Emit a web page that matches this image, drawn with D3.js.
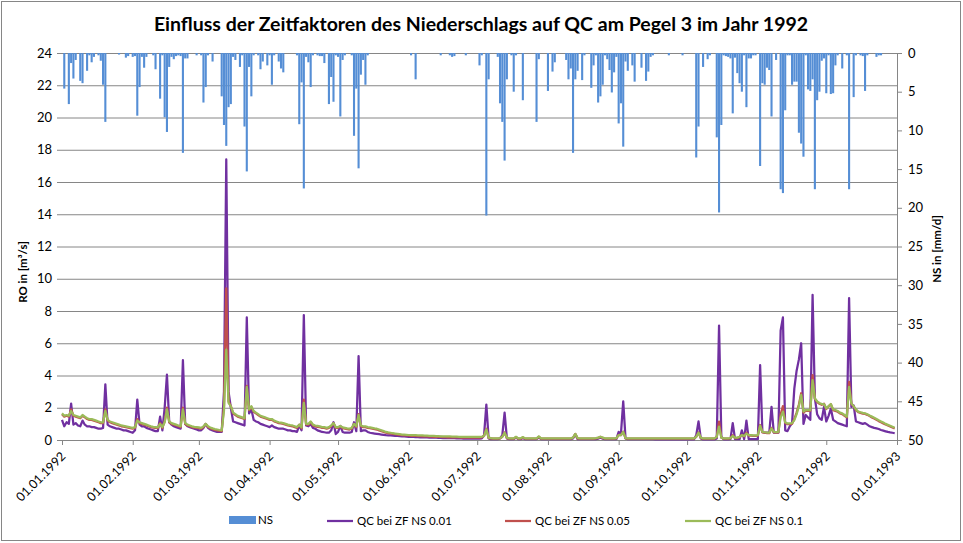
<!DOCTYPE html>
<html>
<head>
<meta charset="utf-8">
<script src="https://cdn.jsdelivr.net/npm/d3@7.9.0/dist/d3.min.js"></script>
<style>
  body { margin: 0; background: #fff; }
  svg { display: block; font-family: Lato, "Open Sans", sans-serif; }
</style>
</head>
<body>
<svg id="chart" width="963" height="543"></svg>
<script>
// Tagesniederschlag NS [mm/d]: [Tag des Jahres (0 = 01.01.1992), Wert]
const nsRain = [
  [1,4.6],[3,6.6],[4,1.3],[5,3.3],[6,0.9],[8,3.6],[9,3.9],[11,2.3],[12,0.3],[13,1.2],
  [14,0.5],[16,0.3],[17,1.0],[18,4.1],[19,8.9],[25,0.2],[28,0.6],[29,0.4],[31,0.5],[32,0.4],
  [33,8.1],[34,4.4],[35,0.5],[36,1.9],[37,0.5],[40,0.3],[41,2.1],[43,5.9],[44,0.3],[45,8.3],
  [46,10.2],[47,1.8],[48,0.5],[49,0.8],[50,0.4],[51,0.3],[52,0.4],[53,12.9],[54,0.7],[55,0.7],
  [59,0.3],[61,0.3],[62,6.4],[63,4.4],[64,0.3],[66,1.1],[70,5.6],[71,9.3],[72,12.0],[73,7.0],
  [74,6.6],[75,0.5],[76,0.9],[78,1.8],[79,0.3],[80,9.5],[81,15.3],[82,1.8],[83,5.6],[84,0.3],
  [86,0.3],[87,2.1],[88,1.1],[90,1.6],[91,0.3],[92,4.1],[93,0.3],[95,1.1],[96,2.0],[97,2.5],
  [103,0.3],[104,9.2],[105,3.8],[106,17.5],[107,0.5],[108,1.2],[109,4.4],[110,0.3],[112,0.3],[113,0.4],
  [114,0.4],[115,1.3],[117,6.6],[118,3.1],[119,6.3],[120,0.3],[121,0.5],[122,8.2],[123,0.9],[124,0.3],
  [127,0.3],[128,10.7],[129,4.6],[130,14.9],[131,2.8],[132,0.9],[133,4.1],[134,0.3],[153,0.3],[155,3.4],
  [166,0.3],[170,0.3],[171,0.5],[172,0.4],[177,0.3],[183,1.6],[184,0.3],[186,21.0],[187,3.4],[191,0.5],
  [192,6.5],[193,8.9],[194,13.9],[195,3.4],[197,0.3],[198,5.0],[199,0.3],[202,6.1],[208,8.9],[209,0.8],
  [213,4.9],[215,2.4],[216,1.2],[221,0.9],[222,3.4],[223,2.0],[224,12.9],[225,3.4],[226,2.3],[228,3.5],
  [229,0.3],[232,4.5],[233,1.6],[234,0.3],[235,6.4],[236,5.6],[237,4.1],[238,0.3],[239,0.8],[240,2.2],
  [241,5.1],[242,2.5],[243,0.5],[244,9.1],[245,6.5],[246,12.1],[247,1.1],[248,2.3],[250,1.6],[251,3.7],
  [254,1.9],[256,3.6],[257,2.4],[258,0.5],[259,0.3],[266,0.3],[272,0.3],[278,13.5],[279,9.5],[281,1.8],
  [283,0.8],[284,0.3],[287,10.9],[288,20.6],[289,9.3],[290,0.3],[291,0.4],[292,0.5],[293,0.7],[294,7.8],
  [295,0.6],[296,2.6],[297,3.9],[298,5.0],[299,0.3],[300,7.0],[301,0.7],[302,0.7],[303,0.3],[304,0.3],
  [306,14.6],[307,3.9],[308,4.1],[309,1.9],[310,2.2],[311,8.2],[313,0.9],[315,17.6],[316,18.1],[317,7.4],
  [318,0.3],[319,0.3],[320,4.1],[321,3.7],[322,3.7],[323,10.3],[324,11.7],[325,13.4],[326,0.3],[327,4.7],
  [328,4.9],[329,3.4],[330,17.6],[331,6.1],[332,5.0],[333,1.0],[334,0.7],[335,5.2],[336,0.3],[337,5.3],
  [338,5.2],[339,1.6],[340,0.3],[342,2.0],[344,0.3],[345,17.6],[347,5.7],[348,0.3],[350,0.3],[351,0.4],
  [352,4.9],[353,0.3],[357,0.5],[358,0.3],[359,0.3]
];

// QC [m³/s], täglich ab 01.01.1992 (366 Werte)
const qc001 = [
  1.25,0.85,1.1,1.0,2.25,0.95,1.05,0.9,0.85,1.2,
  0.95,0.85,0.85,0.8,0.8,0.75,0.7,0.7,0.75,3.45,
  0.95,0.85,0.8,0.75,0.7,0.7,0.65,0.6,0.6,0.55,
  0.5,0.45,0.6,2.5,0.95,0.85,0.85,0.75,0.7,0.65,
  0.6,0.55,0.55,1.45,0.6,2.0,4.05,1.1,0.95,0.85,
  0.8,0.75,0.7,4.95,1.0,0.85,0.8,0.75,0.7,0.65,
  0.6,0.6,0.75,1.0,0.75,0.65,0.6,0.55,0.5,0.5,
  0.5,3.0,17.4,3.0,2.0,1.15,1.1,1.05,1.0,0.95,
  0.9,7.6,1.65,1.9,1.25,1.15,1.1,1.0,0.95,0.9,
  0.85,0.8,0.9,0.8,0.75,0.7,0.7,0.7,0.65,0.6,
  0.6,0.55,0.55,0.5,0.9,0.6,7.75,0.9,0.85,1.0,
  0.75,0.7,0.6,0.55,0.5,0.48,0.45,0.45,0.6,1.1,
  0.37,0.5,0.87,0.5,0.45,0.45,0.45,0.5,1.1,0.55,
  5.2,0.55,0.6,0.6,0.5,0.45,0.42,0.4,0.38,0.36,
  0.34,0.32,0.3,0.29,0.28,0.27,0.26,0.25,0.24,0.23,
  0.22,0.21,0.2,0.2,0.19,0.18,0.18,0.17,0.17,0.16,
  0.16,0.15,0.15,0.14,0.14,0.13,0.13,0.12,0.12,0.12,
  0.11,0.11,0.11,0.1,0.1,0.1,0.09,0.09,0.09,0.09,
  0.08,0.08,0.08,0.08,0.1,0.3,2.2,0.1,0.05,0.05,
  0.05,0.05,0.1,0.3,1.7,0.1,0.05,0.05,0.05,0.15,
  0.05,0.05,0.12,0.05,0.05,0.05,0.05,0.05,0.05,0.15,
  0.05,0.05,0.05,0.05,0.05,0.05,0.05,0.05,0.05,0.05,
  0.05,0.05,0.05,0.05,0.1,0.35,0.05,0.05,0.05,0.05,
  0.05,0.05,0.05,0.05,0.05,0.08,0.15,0.08,0.05,0.05,
  0.05,0.05,0.05,0.05,0.5,0.4,2.4,0.1,0.05,0.05,
  0.05,0.05,0.05,0.05,0.05,0.05,0.05,0.05,0.05,0.05,
  0.04,0.04,0.04,0.04,0.04,0.04,0.04,0.04,0.04,0.04,
  0.04,0.04,0.04,0.04,0.04,0.04,0.04,0.04,0.3,1.15,
  0.1,0.04,0.04,0.04,0.04,0.04,0.04,0.1,7.1,0.2,
  0.04,0.04,0.04,0.05,1.05,0.05,0.05,0.05,0.6,0.05,
  1.2,0.05,0.05,0.05,0.05,0.05,4.65,0.5,0.45,0.45,
  0.45,2.05,0.45,0.45,0.45,6.8,7.6,0.6,0.55,0.85,
  1.05,3.2,4.3,5.0,6.0,1.0,1.55,1.4,1.25,9.0,
  2.6,1.6,1.35,1.25,2.05,1.15,1.5,1.95,1.25,1.15,
  1.05,1.0,0.95,0.9,0.85,8.8,2.05,2.15,1.15,1.1,
  1.05,1.0,1.05,0.95,0.85,0.8,0.75,0.72,0.68,0.62,
  0.58,0.54,0.5,0.47,0.45,0.42
];

const qc005 = [
  1.6,1.45,1.5,1.45,1.9,1.5,1.45,1.4,1.35,1.5,
  1.4,1.3,1.25,1.25,1.2,1.15,1.1,1.05,1.05,1.9,
  1.2,1.1,1.05,1.0,0.95,0.9,0.85,0.83,0.8,0.77,
  0.73,0.7,0.75,1.3,1.05,1.0,0.95,0.9,0.85,0.8,
  0.77,0.75,0.73,1.05,0.75,1.15,2.0,1.1,1.0,0.95,
  0.9,0.85,0.8,2.0,1.0,0.9,0.85,0.8,0.77,0.75,
  0.73,0.7,0.8,1.0,0.8,0.73,0.67,0.63,0.6,0.57,
  0.55,2.1,9.4,2.4,2.1,1.65,1.55,1.45,1.4,1.35,
  1.3,3.35,1.85,2.05,1.75,1.65,1.55,1.45,1.4,1.35,
  1.3,1.25,1.25,1.15,1.1,1.05,1.03,1.0,0.95,0.9,
  0.87,0.85,0.8,0.75,0.95,0.73,2.5,0.95,0.95,1.1,
  0.9,0.85,0.82,0.79,0.75,0.75,0.7,0.75,0.85,1.05,
  0.75,0.75,0.85,0.73,0.7,0.67,0.65,0.7,1.0,0.8,
  1.6,0.85,0.8,0.8,0.75,0.73,0.7,0.67,0.65,0.6,
  0.55,0.5,0.46,0.43,0.41,0.38,0.36,0.34,0.32,0.3,
  0.29,0.28,0.27,0.26,0.26,0.25,0.24,0.24,0.23,0.23,
  0.22,0.21,0.21,0.2,0.2,0.19,0.19,0.18,0.18,0.17,
  0.17,0.17,0.16,0.16,0.16,0.15,0.15,0.15,0.15,0.15,
  0.15,0.15,0.15,0.15,0.16,0.25,0.7,0.12,0.1,0.08,
  0.08,0.08,0.1,0.2,0.47,0.12,0.08,0.08,0.08,0.18,
  0.08,0.08,0.16,0.08,0.08,0.08,0.08,0.08,0.08,0.2,
  0.08,0.08,0.08,0.08,0.08,0.08,0.08,0.08,0.08,0.08,
  0.08,0.08,0.08,0.08,0.14,0.38,0.1,0.08,0.08,0.08,
  0.08,0.08,0.08,0.08,0.1,0.13,0.2,0.13,0.08,0.08,
  0.08,0.08,0.08,0.1,0.32,0.3,0.52,0.1,0.08,0.08,
  0.08,0.08,0.08,0.08,0.08,0.08,0.08,0.08,0.08,0.08,
  0.08,0.08,0.08,0.08,0.08,0.08,0.08,0.08,0.08,0.08,
  0.08,0.08,0.08,0.08,0.08,0.08,0.08,0.08,0.2,0.47,
  0.12,0.08,0.08,0.08,0.08,0.08,0.08,0.2,1.14,0.14,
  0.08,0.08,0.08,0.1,0.3,0.12,0.12,0.18,0.32,0.22,
  0.45,0.27,0.27,0.25,0.25,0.27,0.93,0.47,0.45,0.43,
  0.42,0.75,0.47,0.45,0.47,1.6,2.1,1.05,0.98,0.98,
  1.0,1.3,1.7,2.2,2.9,1.7,1.82,1.8,1.8,4.03,
  2.55,2.35,2.25,2.18,2.25,1.92,2.08,2.22,1.85,1.8,
  1.75,1.65,1.6,1.5,1.4,3.6,2.25,2.08,1.85,1.72,
  1.68,1.64,1.62,1.56,1.48,1.4,1.33,1.25,1.17,1.1,
  1.03,0.96,0.9,0.84,0.78,0.72
];

const qc01 = [
  1.65,1.5,1.55,1.5,1.8,1.55,1.5,1.45,1.4,1.55,
  1.45,1.35,1.3,1.3,1.25,1.2,1.15,1.1,1.1,1.8,
  1.25,1.15,1.1,1.05,1.0,0.95,0.9,0.88,0.85,0.82,
  0.78,0.75,0.8,1.2,1.1,1.05,1.0,0.95,0.9,0.85,
  0.82,0.8,0.78,1.0,0.8,1.1,1.9,1.15,1.05,1.0,
  0.95,0.9,0.85,1.9,1.05,0.95,0.9,0.85,0.82,0.8,
  0.78,0.75,0.85,1.0,0.85,0.78,0.72,0.68,0.65,0.62,
  0.6,1.8,5.6,2.3,2.1,1.7,1.6,1.5,1.45,1.4,
  1.35,3.3,1.9,2.1,1.8,1.7,1.6,1.5,1.45,1.4,
  1.35,1.3,1.3,1.2,1.15,1.1,1.08,1.05,1.0,0.95,
  0.92,0.9,0.85,0.8,0.95,0.78,2.3,1.0,1.0,1.15,
  0.95,0.9,0.87,0.84,0.8,0.8,0.75,0.8,0.9,1.05,
  0.8,0.8,0.87,0.78,0.75,0.72,0.7,0.75,1.0,0.85,
  1.55,0.9,0.85,0.85,0.8,0.78,0.75,0.72,0.7,0.65,
  0.6,0.55,0.5,0.47,0.45,0.42,0.4,0.38,0.36,0.34,
  0.33,0.32,0.31,0.3,0.3,0.3,0.29,0.28,0.28,0.27,
  0.27,0.26,0.25,0.25,0.24,0.24,0.23,0.23,0.22,0.22,
  0.22,0.21,0.21,0.21,0.2,0.2,0.2,0.2,0.2,0.2,
  0.2,0.2,0.2,0.2,0.2,0.25,0.66,0.15,0.12,0.1,
  0.1,0.1,0.12,0.2,0.45,0.15,0.1,0.1,0.1,0.2,
  0.1,0.1,0.18,0.1,0.1,0.1,0.1,0.1,0.1,0.22,
  0.1,0.1,0.1,0.1,0.1,0.1,0.1,0.1,0.1,0.1,
  0.1,0.1,0.1,0.1,0.15,0.38,0.12,0.1,0.1,0.1,
  0.1,0.1,0.1,0.1,0.12,0.15,0.2,0.15,0.1,0.1,
  0.1,0.1,0.1,0.12,0.3,0.3,0.5,0.12,0.1,0.1,
  0.1,0.1,0.1,0.1,0.1,0.1,0.1,0.1,0.1,0.1,
  0.1,0.1,0.1,0.1,0.1,0.1,0.1,0.1,0.1,0.1,
  0.1,0.1,0.1,0.1,0.1,0.1,0.1,0.1,0.2,0.45,
  0.15,0.1,0.1,0.1,0.1,0.1,0.1,0.2,0.83,0.15,
  0.1,0.1,0.1,0.12,0.25,0.15,0.15,0.2,0.3,0.25,
  0.4,0.3,0.3,0.28,0.28,0.3,0.89,0.5,0.48,0.46,
  0.45,0.72,0.5,0.48,0.5,1.4,1.76,1.1,1.03,1.03,
  1.05,1.24,1.6,2.1,2.8,1.76,1.86,1.85,1.86,3.72,
  2.58,2.4,2.3,2.23,2.23,1.96,2.1,2.23,1.9,1.86,
  1.8,1.7,1.65,1.55,1.45,3.3,2.27,2.1,1.9,1.76,
  1.72,1.68,1.65,1.6,1.52,1.45,1.38,1.3,1.22,1.15,
  1.08,1.0,0.94,0.88,0.82,0.76
];

const roTicks = [0, 2, 4, 6, 8, 10, 12, 14, 16, 18, 20, 22, 24];
const nsTicks = [0, 5, 10, 15, 20, 25, 30, 35, 40, 45, 50];

const series = [
  { name: 'QC bei ZF NS 0.01', values: qc001, color: '#7030a0' },
  { name: 'QC bei ZF NS 0.05', values: qc005, color: '#c0504d' },
  { name: 'QC bei ZF NS 0.1',  values: qc01,  color: '#9bbb59' }
];

const start = new Date(1992, 0, 1);
const end = new Date(1993, 0, 1);
const dayDate = d => d3.timeDay.offset(start, d);

const svg = d3.select('#chart');
const plot = { left: 62, right: 897, top: 53, bottom: 440 };

const x = d3.scaleTime().domain([start, end]).range([plot.left, plot.right]);
const yRO = d3.scaleLinear().domain([0, 24]).range([plot.bottom, plot.top]);
const yNS = d3.scaleLinear().domain([0, 50]).range([plot.top, plot.bottom]);

// outer frame
svg.append('rect')
  .attr('x', 1.5).attr('y', 1.5)
  .attr('width', 959).attr('height', 539)
  .attr('fill', '#fff').attr('stroke', '#868686');

// title
svg.append('text')
  .attr('x', 481).attr('y', 31)
  .attr('text-anchor', 'middle')
  .attr('font-size', 19.5).attr('font-weight', 'bold')
  .text('Einfluss der Zeitfaktoren des Niederschlags auf QC am Pegel 3 im Jahr 1992');

// gridlines
svg.append('g')
  .attr('transform', `translate(${plot.left},0)`)
  .call(d3.axisLeft(yRO).tickValues(roTicks).tickFormat('').tickSize(-(plot.right - plot.left)))
  .call(g => g.select('.domain').remove())
  .call(g => g.selectAll('line').attr('stroke', '#868686'));

// left axis
const leftAxis = svg.append('g')
  .attr('transform', `translate(${plot.left},0)`)
  .call(d3.axisLeft(yRO).tickValues(roTicks).tickSize(5).tickPadding(5));
leftAxis.select('.domain').remove();
leftAxis.selectAll('line').attr('stroke', '#868686');
leftAxis.selectAll('text').attr('font-size', 13).attr('fill', '#000').style('font-family', 'Lato');

// right axis
const rightAxis = svg.append('g')
  .attr('transform', `translate(${plot.right},0)`)
  .call(d3.axisRight(yNS).tickValues(nsTicks).tickSize(5).tickPadding(6).tickSizeOuter(0));
rightAxis.select('.domain').attr('stroke', '#868686');
rightAxis.selectAll('line').attr('stroke', '#868686');
rightAxis.selectAll('text').attr('font-size', 13).attr('fill', '#000').style('font-family', 'Lato');

// bars (NS, hanging from the top)
const barW = 2.1;
svg.append('g')
  .selectAll('rect')
  .data(nsRain)
  .join('rect')
  .attr('x', d => x(dayDate(d[0])) - barW / 2)
  .attr('y', yNS(0))
  .attr('width', barW)
  .attr('height', d => yNS(d[1]) - yNS(0))
  .attr('fill', '#558ed5');

// x axis
const xAxis = svg.append('g')
  .attr('transform', `translate(0,${plot.bottom})`)
  .call(d3.axisBottom(x).ticks(d3.timeMonth.every(1)).tickFormat(d3.timeFormat('%d.%m.%Y')).tickSize(5).tickSizeOuter(0));
xAxis.select('.domain').attr('stroke', '#868686');
xAxis.selectAll('line').attr('stroke', '#868686');
xAxis.selectAll('text')
  .attr('font-size', 12.5).attr('fill', '#000').style('font-family', 'Lato')
  .attr('text-anchor', 'end')
  .attr('dy', null)
  .attr('y', 0)
  .attr('transform', 'translate(4,17) rotate(-45)');

// QC lines
const line = d3.line()
  .x((v, i) => x(dayDate(i)))
  .y(v => yRO(v));

svg.append('g')
  .selectAll('path')
  .data(series)
  .join('path')
  .attr('d', s => line(s.values))
  .attr('fill', 'none')
  .attr('stroke', s => s.color)
  .attr('stroke-width', 2.25)
  .attr('stroke-linejoin', 'round');

// axis titles
svg.append('text')
  .attr('transform', 'translate(27,272) rotate(-90)')
  .attr('text-anchor', 'middle')
  .attr('font-size', 11.5).attr('font-weight', 'bold')
  .text('RO in [m³/s]');

svg.append('text')
  .attr('transform', 'translate(941,249) rotate(-90)')
  .attr('text-anchor', 'middle')
  .attr('font-size', 11.5).attr('font-weight', 'bold')
  .text('NS in [mm/d]');

// legend
const legend = svg.append('g').attr('font-size', 11.5);
legend.append('rect')
  .attr('x', 229).attr('y', 516).attr('width', 27).attr('height', 8)
  .attr('fill', '#558ed5');
legend.append('text').attr('x', 258).attr('y', 524).text('NS');

const legendX = [327, 505, 685];
series.forEach((s, i) => {
  legend.append('line')
    .attr('x1', legendX[i]).attr('x2', legendX[i] + 26)
    .attr('y1', 521).attr('y2', 521)
    .attr('stroke', s.color).attr('stroke-width', 2.25);
  legend.append('text')
    .attr('x', legendX[i] + 30).attr('y', 525)
    .text(s.name);
});
</script>
</body>
</html>
